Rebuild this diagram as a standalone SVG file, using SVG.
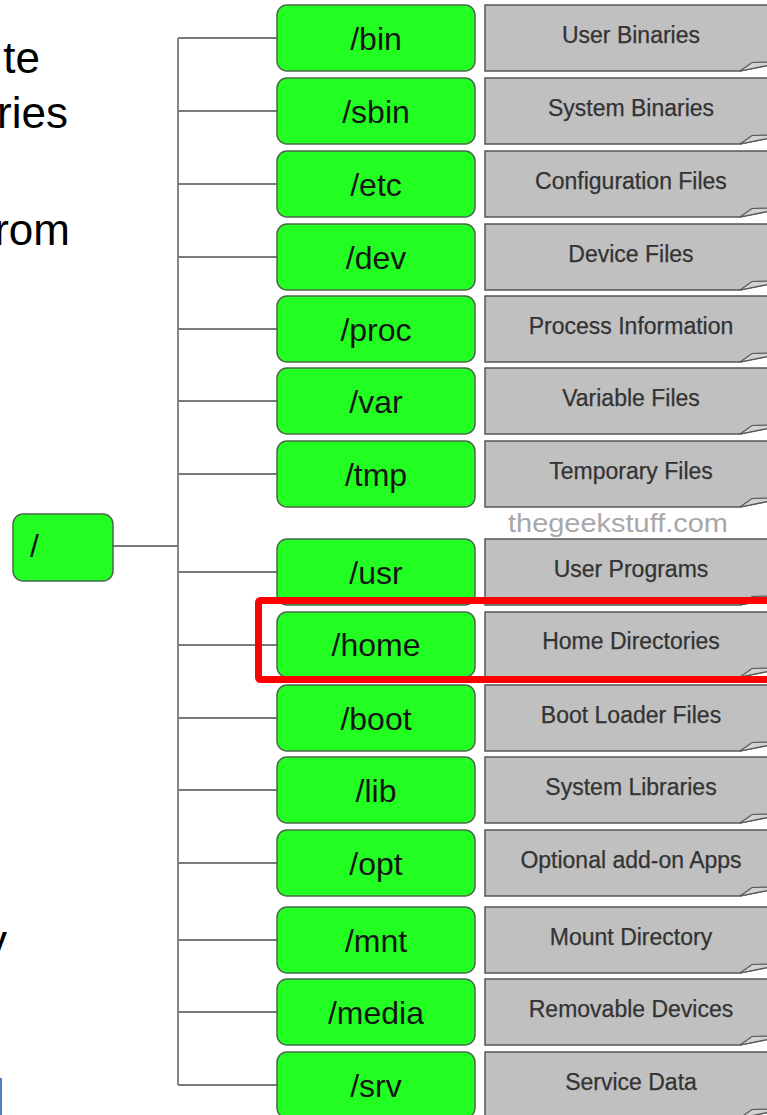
<svg xmlns="http://www.w3.org/2000/svg" width="767" height="1115" viewBox="0 0 767 1115">
<style>
.bg{fill:#ffffff}
.slide{font-family:"Liberation Sans",Arial,sans-serif;font-size:44px;fill:#000}
.dir rect{fill:#22fe22;stroke:#4a6a4a;stroke-width:1.5}
.dir text{font-family:"Liberation Sans",Arial,sans-serif;font-size:32px;fill:#151515;text-anchor:middle}
.note .body{fill:#c0c0c0;stroke:#555;stroke-width:1.5}
.note .fold{fill:#d2d2d2;stroke:#555;stroke-width:1.2}
.note text{font-family:"Liberation Sans",Arial,sans-serif;font-size:23px;fill:#333;text-anchor:middle;stroke:#333;stroke-width:0.25}
.conn line{stroke:#7a7a7a;stroke-width:1.8}
.wm{font-family:"Liberation Sans",Arial,sans-serif;font-size:26px;fill:#a8a8a8;text-anchor:middle}
</style>
<rect class="bg" x="0" y="0" width="767" height="1115"/>

<g id="slide-text">
<text class="slide" x="40" y="73" text-anchor="end">te</text>
<text class="slide" x="68" y="128" text-anchor="end">ries</text>
<text class="slide" x="70" y="245" text-anchor="end">rom</text>
<text class="slide" x="7" y="956" text-anchor="end">y</text>
<rect x="0" y="1078" width="2" height="37" fill="#4f81bd"/>
</g>

<g id="connectors" class="conn">
<line x1="178" y1="38" x2="178" y2="1085"/>
<line x1="113" y1="546" x2="178" y2="546"/>
<line x1="178" y1="38" x2="277" y2="38"/>
<line x1="178" y1="111" x2="277" y2="111"/>
<line x1="178" y1="184" x2="277" y2="184"/>
<line x1="178" y1="257" x2="277" y2="257"/>
<line x1="178" y1="329" x2="277" y2="329"/>
<line x1="178" y1="401" x2="277" y2="401"/>
<line x1="178" y1="474" x2="277" y2="474"/>
<line x1="178" y1="572" x2="277" y2="572"/>
<line x1="178" y1="645" x2="277" y2="645"/>
<line x1="178" y1="718" x2="277" y2="718"/>
<line x1="178" y1="790" x2="277" y2="790"/>
<line x1="178" y1="863" x2="277" y2="863"/>
<line x1="178" y1="940" x2="277" y2="940"/>
<line x1="178" y1="1012" x2="277" y2="1012"/>
<line x1="178" y1="1085" x2="277" y2="1085"/>
</g>

<g id="root" class="dir">
<rect x="13" y="514" width="100" height="67" rx="10"/>
<text x="30" y="557" style="text-anchor:start">/</text>
</g>

<g id="bin" class="dir"><rect x="277" y="5" width="198" height="66" rx="10"/><text x="376" y="49.5">/bin</text></g>
<g id="sbin" class="dir"><rect x="277" y="78" width="198" height="66" rx="10"/><text x="376" y="122.5">/sbin</text></g>
<g id="etc" class="dir"><rect x="277" y="151" width="198" height="66" rx="10"/><text x="376" y="195.5">/etc</text></g>
<g id="dev" class="dir"><rect x="277" y="224" width="198" height="66" rx="10"/><text x="376" y="268.5">/dev</text></g>
<g id="proc" class="dir"><rect x="277" y="296" width="198" height="66" rx="10"/><text x="376" y="340.5">/proc</text></g>
<g id="var" class="dir"><rect x="277" y="368" width="198" height="66" rx="10"/><text x="376" y="412.5">/var</text></g>
<g id="tmp" class="dir"><rect x="277" y="441" width="198" height="66" rx="10"/><text x="376" y="485.5">/tmp</text></g>
<g id="usr" class="dir"><rect x="277" y="539" width="198" height="66" rx="10"/><text x="376" y="583.5">/usr</text></g>
<g id="home" class="dir"><rect x="277" y="612" width="198" height="65" rx="10"/><text x="376" y="655.5">/home</text></g>
<g id="boot" class="dir"><rect x="277" y="685" width="198" height="66" rx="10"/><text x="376" y="729.5">/boot</text></g>
<g id="lib" class="dir"><rect x="277" y="757" width="198" height="66" rx="10"/><text x="376" y="801.5">/lib</text></g>
<g id="opt" class="dir"><rect x="277" y="830" width="198" height="66" rx="10"/><text x="376" y="874.5">/opt</text></g>
<g id="mnt" class="dir"><rect x="277" y="907" width="198" height="66" rx="10"/><text x="376" y="951.5">/mnt</text></g>
<g id="media" class="dir"><rect x="277" y="979" width="198" height="66" rx="10"/><text x="376" y="1023.5">/media</text></g>
<g id="srv" class="dir"><rect x="277" y="1052" width="198" height="66" rx="10"/><text x="376" y="1096.5">/srv</text></g>

<g id="note-bin" class="note"><path class="body" d="M485,5H795V60L740,71H485Z"/><path class="fold" d="M740,71L752,62.5L795,61.5V60Z"/><text x="631" y="42.5">User Binaries</text></g>
<g id="note-sbin" class="note"><path class="body" d="M485,78H795V133L740,144H485Z"/><path class="fold" d="M740,144L752,135.5L795,134.5V133Z"/><text x="631" y="115.5">System Binaries</text></g>
<g id="note-etc" class="note"><path class="body" d="M485,151H795V206L740,217H485Z"/><path class="fold" d="M740,217L752,208.5L795,207.5V206Z"/><text x="631" y="188.5">Configuration Files</text></g>
<g id="note-dev" class="note"><path class="body" d="M485,224H795V279L740,290H485Z"/><path class="fold" d="M740,290L752,281.5L795,280.5V279Z"/><text x="631" y="261.5">Device Files</text></g>
<g id="note-proc" class="note"><path class="body" d="M485,296H795V351L740,362H485Z"/><path class="fold" d="M740,362L752,353.5L795,352.5V351Z"/><text x="631" y="333.5">Process Information</text></g>
<g id="note-var" class="note"><path class="body" d="M485,368H795V423L740,434H485Z"/><path class="fold" d="M740,434L752,425.5L795,424.5V423Z"/><text x="631" y="405.5">Variable Files</text></g>
<g id="note-tmp" class="note"><path class="body" d="M485,441H795V496L740,507H485Z"/><path class="fold" d="M740,507L752,498.5L795,497.5V496Z"/><text x="631" y="478.5">Temporary Files</text></g>
<g id="note-usr" class="note"><path class="body" d="M485,539H795V594L740,605H485Z"/><path class="fold" d="M740,605L752,596.5L795,595.5V594Z"/><text x="631" y="576.5">User Programs</text></g>
<g id="note-home" class="note"><path class="body" d="M485,612H795V666L740,677H485Z"/><path class="fold" d="M740,677L752,668.5L795,667.5V666Z"/><text x="631" y="648.5">Home Directories</text></g>
<g id="note-boot" class="note"><path class="body" d="M485,685H795V740L740,751H485Z"/><path class="fold" d="M740,751L752,742.5L795,741.5V740Z"/><text x="631" y="722.5">Boot Loader Files</text></g>
<g id="note-lib" class="note"><path class="body" d="M485,757H795V812L740,823H485Z"/><path class="fold" d="M740,823L752,814.5L795,813.5V812Z"/><text x="631" y="794.5">System Libraries</text></g>
<g id="note-opt" class="note"><path class="body" d="M485,830H795V885L740,896H485Z"/><path class="fold" d="M740,896L752,887.5L795,886.5V885Z"/><text x="631" y="867.5">Optional add-on Apps</text></g>
<g id="note-mnt" class="note"><path class="body" d="M485,907H795V962L740,973H485Z"/><path class="fold" d="M740,973L752,964.5L795,963.5V962Z"/><text x="631" y="944.5">Mount Directory</text></g>
<g id="note-media" class="note"><path class="body" d="M485,979H795V1034L740,1045H485Z"/><path class="fold" d="M740,1045L752,1036.5L795,1035.5V1034Z"/><text x="631" y="1016.5">Removable Devices</text></g>
<g id="note-srv" class="note"><path class="body" d="M485,1052H795V1107L740,1118H485Z"/><path class="fold" d="M740,1118L752,1109.5L795,1108.5V1107Z"/><text x="631" y="1089.5">Service Data</text></g>

<text class="wm" x="618" y="531.5" textLength="220" lengthAdjust="spacingAndGlyphs">thegeekstuff.com</text>

<rect id="highlight" x="258.5" y="600.5" width="520" height="79" rx="2" fill="none" stroke="#ff0000" stroke-width="7"/>
</svg>
